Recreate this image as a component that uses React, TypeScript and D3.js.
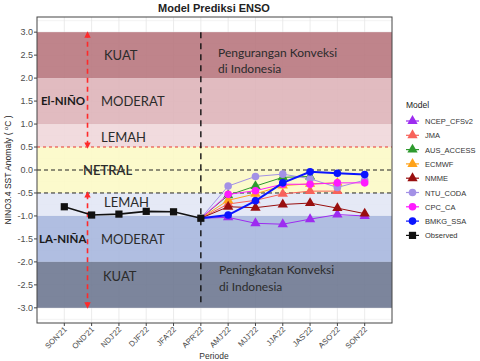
import React from 'react';
import * as d3 from 'd3';

const periods = ["SON'21", "OND'21", "NDJ'22", "DJF'22", "JFA'22", "APR'22", "AMJ'22", "MJJ'22", "JJA'22", "JAS'22", "ASO'22", "SON'22"];
const yTicks = [3, 2.5, 2, 1.5, 1, 0.5, 0, -0.5, -1, -1.5, -2, -2.5, -3];

const observed = [-0.8, -0.98, -0.96, -0.9, -0.91, -1.05];

// forecasts start at APR'22 (index 5)
const ncep = [-1.05, -1.03, -1.16, -1.18, -1.07, -0.97, -1.0];
const jma = [-1.05, -0.74, -0.66, -0.52, -0.46, -0.46];
const aus = [-1.05, -0.55, -0.35, -0.16, -0.14];
const ecmwf = [-1.05, -0.66, -0.52, -0.34, -0.3, -0.28];
const nmme = [-1.05, -0.8, -0.82, -0.75, -0.72, -0.83, -0.95];
const ntu = [-1.05, -0.35, -0.14, -0.09, -0.19, -0.38, -0.22];
const cpc = [-1.05, -0.53, -0.45, -0.31, -0.31, -0.28, -0.28];
const bmkg = [-1.05, -0.98, -0.67, -0.28, -0.04, -0.07, -0.1];

const models = [
  { name: 'NCEP_CFSv2', values: ncep, color: '#9d2cf0', shape: 'tri' },
  { name: 'JMA', values: jma, color: '#f8625a', shape: 'tri' },
  { name: 'AUS_ACCESS', values: aus, color: '#2e9a2e', shape: 'tri' },
  { name: 'ECMWF', values: ecmwf, color: '#ffa31a', shape: 'tri' },
  { name: 'NMME', values: nmme, color: '#990f0f', shape: 'tri' },
  { name: 'NTU_CODA', values: ntu, color: '#a391e6', shape: 'circle' },
  { name: 'CPC_CA', values: cpc, color: '#ff1aff', shape: 'circle' },
  { name: 'BMKG_SSA', values: bmkg, color: '#0a14ff', shape: 'circle' },
];

const bands = [
  { lo: 2, hi: 3, fill: '#b8777e' },
  { lo: 1, hi: 2, fill: '#deb4b9' },
  { lo: 0.5, hi: 1, fill: '#f0d7da' },
  { lo: -0.5, hi: 0.5, fill: '#fcfac6' },
  { lo: -1, hi: -0.5, fill: '#e2e7f5' },
  { lo: -2, hi: -1, fill: '#a7b7de' },
  { lo: -3, hi: -2, fill: '#6e7891' },
];

const L = 37, R = 392, T = 17, B = 323;
const startIdx = 5;

const App = () => {
  const x = d3.scaleLinear().domain([-1, 12]).range([L, R]);
  const y = d3.scaleLinear().domain([-3.33, 3.33]).range([B, T]);
  const line = d3.line<number>().x((_, i) => x(i + startIdx)).y(d => y(d));
  const obsLine = d3.line<number>().x((_, i) => x(i)).y(d => y(d));
  const tri = d3.symbol(d3.symbolTriangle, 46)()!;
  const sq = d3.symbol(d3.symbolSquare, 52)()!;
  const ax = x(0.85);
  const lab = { fontFamily: 'Lato, sans-serif', fontSize: 13, fill: '#2b2b2b' } as const;
  const bold = { fontFamily: 'Lato, sans-serif', fontSize: 11.5, fontWeight: 700, fill: '#1a1a1a' } as const;

  const marker = (shape: string, color: string, cx: number, cy: number, k: number) =>
    shape === 'tri'
      ? <path key={k} d={tri} transform={`translate(${cx},${cy})`} fill={color} />
      : <circle key={k} cx={cx} cy={cy} r={3.8} fill={color} />;

  return (
    <svg width={480} height={361} style={{ position: 'absolute', left: 0, top: 0, background: '#fff' }}>
      <defs>
        <marker id="ah" viewBox="0 0 10 10" refX="5" refY="5" markerWidth="4" markerHeight="4" orient="auto-start-reverse">
          <path d="M0,0L10,5L0,10z" fill="#ff2a2a" />
        </marker>
      </defs>
      <text x={214} y={12} textAnchor="middle" fontFamily="Liberation Sans, Arial" fontWeight={700} fontSize={11} fill="#222">Model Prediksi ENSO</text>

      {/* grid */}
      {d3.range(-3.25, 3.3, 0.25).map(v => (
        <line key={'h' + v} x1={L} x2={R} y1={y(v)} y2={y(v)} stroke="#e6e6e6" strokeWidth={Number.isInteger(v * 2) ? 0.8 : 0.5} />
      ))}
      {periods.map((_, i) => (
        <line key={'v' + i} x1={x(i)} x2={x(i)} y1={T} y2={B} stroke="#e6e6e6" strokeWidth={0.8} />
      ))}

      {bands.map(b => (
        <rect key={b.lo} x={L} width={R - L} y={y(b.hi)} height={y(b.lo) - y(b.hi)} fill={b.fill} opacity={0.9} />
      ))}

      <line x1={L} x2={R} y1={y(0.5)} y2={y(0.5)} stroke="#e8382e" strokeWidth={1.1} strokeDasharray="3,3" />
      <line x1={L} x2={R} y1={y(0)} y2={y(0)} stroke="#222" strokeWidth={1} strokeDasharray="4,3" />
      <line x1={L} x2={R} y1={y(-0.5)} y2={y(-0.5)} stroke="#222" strokeWidth={1} strokeDasharray="4,3" />
      <line x1={x(5)} x2={x(5)} y1={y(3)} y2={y(-2.95)} stroke="#111" strokeWidth={1.4} strokeDasharray="6,5" />

      <line x1={ax} x2={ax} y1={y(0.53)} y2={y(2.95)} stroke="#ff2a2a" strokeWidth={1.6} strokeDasharray="5,4" markerStart="url(#ah)" markerEnd="url(#ah)" />
      <line x1={ax} x2={ax} y1={y(-0.53)} y2={y(-2.95)} stroke="#ff2a2a" strokeWidth={1.6} strokeDasharray="5,4" markerStart="url(#ah)" markerEnd="url(#ah)" />

      <text x={104} y={y(2.5) + 5} style={lab}>KUAT</text>
      <text x={101} y={y(1.5) + 5} style={lab}>MODERAT</text>
      <text x={101} y={y(0.72) + 5} style={lab}>LEMAH</text>
      <text x={41} y={y(1.5) + 4} style={bold}>El-NIÑO</text>
      <text x={83} y={y(0) + 5} style={{ ...lab, fontWeight: 600 }}>NETRAL</text>
      <text x={104} y={y(-0.7) + 5} style={lab}>LEMAH</text>
      <text x={39} y={y(-1.5) + 4} style={bold}>LA-NIÑA</text>
      <text x={101} y={y(-1.5) + 5} style={lab}>MODERAT</text>
      <text x={103} y={y(-2.3) + 5} style={lab}>KUAT</text>
      <text x={218} y={57} style={{ ...lab, fontSize: 12 }}>Pengurangan Konveksi</text>
      <text x={218} y={73} style={{ ...lab, fontSize: 12 }}>di Indonesia</text>
      <text x={219} y={274} style={{ ...lab, fontSize: 12 }}>Peningkatan Konveksi</text>
      <text x={219} y={291} style={{ ...lab, fontSize: 12 }}>di Indonesia</text>

      {/* model lines */}
      {models.map(m => (
        <g key={m.name}>
          <path d={line(m.values)!} fill="none" stroke={m.color} strokeWidth={m.name === 'BMKG_SSA' ? 2 : 1} />
          {m.values.map((v, i) => i === 0 ? null : marker(m.shape, m.color, x(i + startIdx), y(v), i))}
        </g>
      ))}
      <path d={obsLine(observed)!} fill="none" stroke="#111" strokeWidth={1.6} />
      {observed.map((v, i) => <path key={i} d={sq} transform={`translate(${x(i)},${y(v)})`} fill="#111" />)}

      <rect x={L} y={T} width={R - L} height={B - T} fill="none" stroke="#444" strokeWidth={1} />

      {/* y axis */}
      {yTicks.map(v => (
        <g key={v}>
          <line x1={L - 3} x2={L} y1={y(v)} y2={y(v)} stroke="#444" />
          <text x={L - 4} y={y(v) + 3} textAnchor="end" fontFamily="Liberation Sans, Arial" fontSize={9} fill="#4d4d4d">{v.toFixed(1)}</text>
        </g>
      ))}
      <text transform={`translate(11,170) rotate(-90)`} textAnchor="middle" fontFamily="Liberation Sans, Arial" fontSize={8.5} fill="#222">
        NINO3.4 SST Anomaly ( <tspan dy={-3} fontSize={6}>o</tspan><tspan dy={3}>C )</tspan>
      </text>

      {/* x axis */}
      {periods.map((p, i) => (
        <g key={p + i}>
          <line x1={x(i)} x2={x(i)} y1={B} y2={B + 3} stroke="#444" />
          <text transform={`translate(${x(i) + 3},${B + 7}) rotate(-45)`} textAnchor="end" fontFamily="Liberation Sans, Arial" fontSize={7.8} fill="#4d4d4d">{p}</text>
        </g>
      ))}
      <text x={214} y={359} textAnchor="middle" fontFamily="Liberation Sans, Arial" fontSize={8.5} fill="#333">Periode</text>

      {/* legend */}
      <text x={406} y={108} fontFamily="Liberation Sans, Arial" fontSize={8.5} fill="#222">Model</text>
      {[...models.map(m => ({ name: m.name, color: m.color, shape: m.shape })), { name: 'Observed', color: '#111', shape: 'sq' }].map((m, i) => {
        const ly = 121 + i * 14.3;
        return (
          <g key={m.name}>
            <line x1={406} x2={419} y1={ly} y2={ly} stroke={m.color} strokeWidth={1.2} />
            {m.shape === 'sq'
              ? <path d={sq} transform={`translate(412.5,${ly})`} fill={m.color} />
              : marker(m.shape, m.color, 412.5, ly, i)}
            <text x={425} y={ly + 3} fontFamily="Liberation Sans, Arial" fontSize={7.5} fill="#333">{m.name}</text>
          </g>
        );
      })}
    </svg>
  );
};

export default App;
